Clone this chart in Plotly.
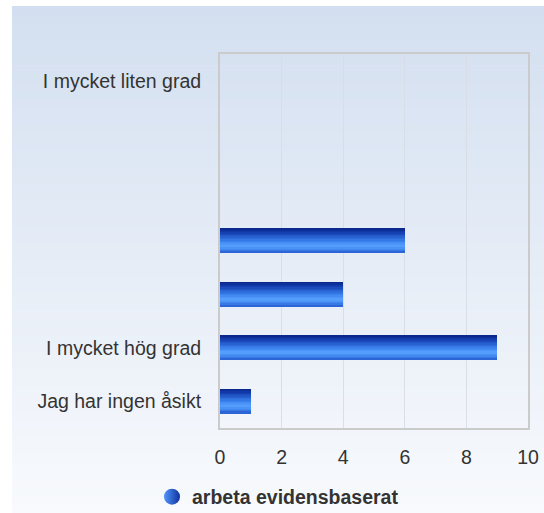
import plotly.graph_objects as go

# ---- data ----
categories = ["I mycket liten grad", " ", "  ", "   ", "    ", "I mycket hög grad", "Jag har ingen åsikt"]
values = [0, 0, 0, 6, 4, 9, 1]
series_name = "arbeta evidensbaserat"
x_ticks = [0, 2, 4, 6, 8, 10]

# ---- layout geometry (pixels) ----
W, H = 544, 513
L, R, T, B = 220, 16, 54, 85
pw, ph = W - L - R, H - T - B
FONT = "Liberation Sans, Arial, sans-serif"
FS = 19.5

def px_to_paper_x(px):
    return (px - L) / pw

def px_to_paper_y(py):
    return (H - B - py) / ph

def lerp(c1, c2, t):
    return tuple(round(a + (b - a) * t) for a, b in zip(c1, c2))

def grad(stops, t):
    for (t0, c0), (t1, c1) in zip(stops, stops[1:]):
        if t0 <= t <= t1:
            return lerp(c0, c1, (t - t0) / (t1 - t0) if t1 > t0 else 0)
    return stops[-1][1]

fig = go.Figure()

# bar gradient via overlaid strips
bar_w = 0.45
n_strips = 18
bar_stops = [(0.0, (8, 36, 135)), (0.18, (20, 62, 175)), (0.5, (55, 125, 235)),
             (0.72, (88, 162, 255)), (0.88, (62, 132, 238)), (1.0, (38, 92, 205))]
sw = bar_w / n_strips
for i in range(n_strips):
    t = (i + 0.5) / n_strips
    c = grad(bar_stops, t)
    fig.add_trace(go.Bar(
        y=categories, x=values, orientation="h",
        width=sw * 1.15, offset=-bar_w / 2 + i * sw,
        marker=dict(color="rgb(%d,%d,%d)" % c, line=dict(width=0), cornerradius=1),
        showlegend=False, hoverinfo="skip",
    ))

# legend entry
fig.add_trace(go.Scatter(
    x=[None], y=[None], mode="markers", name=series_name,
    marker=dict(symbol="circle", size=20, color="rgb(80,150,250)",
                gradient=dict(type="horizontal", color="rgb(15,50,160)")),
))

# background gradient panel
shapes = []
top_c, bot_c = (211, 223, 240), (248, 250, 253)
n_bg = 60
y0p, y1p = 6, 513
for i in range(n_bg):
    a = y0p + (y1p - y0p) * i / n_bg
    b = y0p + (y1p - y0p) * (i + 1) / n_bg
    c = lerp(top_c, bot_c, (i + 0.5) / n_bg)
    shapes.append(dict(type="rect", xref="paper", yref="paper", layer="below",
                       x0=px_to_paper_x(12), x1=px_to_paper_x(W),
                       y0=px_to_paper_y(b + 0.6), y1=px_to_paper_y(a),
                       fillcolor="rgb(%d,%d,%d)" % c, line=dict(width=0)))

fig.update_layout(
    width=W, height=H,
    margin=dict(l=L, r=R, t=T, b=B, pad=0, autoexpand=False),
    paper_bgcolor="white", plot_bgcolor="rgba(0,0,0,0)",
    barmode="overlay", bargap=0,
    shapes=shapes,
    font=dict(family=FONT, size=FS, color="#333333"),
    showlegend=True,
    legend=dict(orientation="h", x=278 / W, xanchor="center", xref="container",
                y=(H - 497) / H, yanchor="middle", yref="container",
                font=dict(size=FS, color="#333333", family=FONT, weight="bold"),
                bgcolor="rgba(0,0,0,0)", itemwidth=30),
    xaxis=dict(range=[0, 10], tickvals=x_ticks, showgrid=True,
               gridcolor="rgba(215,220,228,0.9)", gridwidth=1, automargin=False,
               zeroline=False, showline=True, linecolor="#cbcbcb", linewidth=2,
               mirror=True, ticks="", ticklabelstandoff=11, fixedrange=True),
    yaxis=dict(categoryorder="array", categoryarray=categories, autorange="reversed",
               showgrid=False, zeroline=False, showline=True, linecolor="#cbcbcb",
               automargin=False,
               linewidth=2, mirror=True, ticks="", ticklabelstandoff=13),
)

fig.write_html("out.html", config={"displayModeBar": False},
               post_script="document.body.style.margin='0';document.body.style.overflow='hidden';")
